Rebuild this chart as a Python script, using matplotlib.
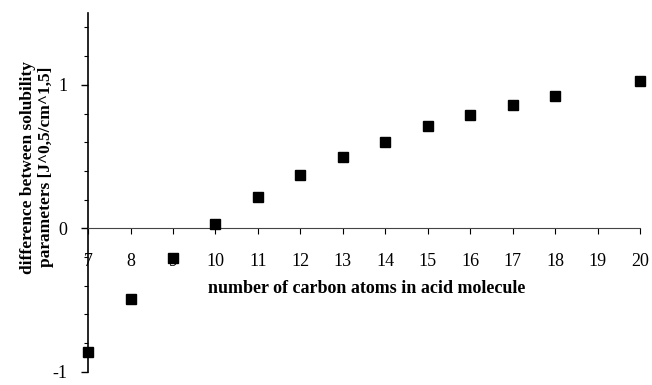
import numpy as np
import matplotlib.pyplot as plt

# carbon atoms vs difference in solubility parameters
n_carbon = [7, 8, 9, 10, 11, 12, 13, 14, 15, 16, 17, 18, 20]
delta = [-0.86, -0.49, -0.205, 0.03, 0.22, 0.37, 0.50, 0.60, 0.71, 0.79, 0.86, 0.92, 1.03]
xticks = list(range(7, 21))
yticks_major = [-1, 0, 1]

plt.rcParams['font.family'] = ['Liberation Serif', 'DejaVu Serif']

fig = plt.figure(figsize=(6.52, 3.85), dpi=100)
ax = fig.add_axes([0.135, 0.034, 0.847, 0.932])

ax.plot(n_carbon, delta, 's', color='black', markersize=7, clip_on=False, zorder=3)

ax.set_xlim(7, 20)
ax.set_ylim(-1, 1.5)

ax.spines['right'].set_visible(False)
ax.spines['top'].set_visible(False)
ax.spines['bottom'].set_position(('data', 0))
ax.spines['left'].set_linewidth(1.2)
ax.spines['bottom'].set_linewidth(0.8)
ax.spines['bottom'].set_color('#444444')

ax.set_xticks(xticks)
ax.set_xticklabels([str(t) for t in xticks])
ax.set_yticks(yticks_major)
ax.set_yticklabels(['-1', '0', '1'])
ax.set_yticks(np.arange(-1, 1.51, 0.2), minor=True)

ax.tick_params(axis='x', direction='out', length=4, width=0.8, pad=14, labelsize=13)
ax.tick_params(axis='y', which='major', direction='out', length=5, width=1, pad=10, labelsize=13)
ax.tick_params(axis='y', which='minor', direction='out', length=3, width=0.8)

ax.text(13.55, -0.42, 'number of carbon atoms in acid molecule', ha='center', va='center',
        fontsize=13, fontweight='bold')
fig.text(0.057, 0.566, 'difference between solubility\nparameters [J^0,5/cm^1,5]',
         rotation=90, ha='center', va='center', fontsize=12.5, fontweight='bold',
         linespacing=1.15)

fig.savefig('out.png', dpi=100)
